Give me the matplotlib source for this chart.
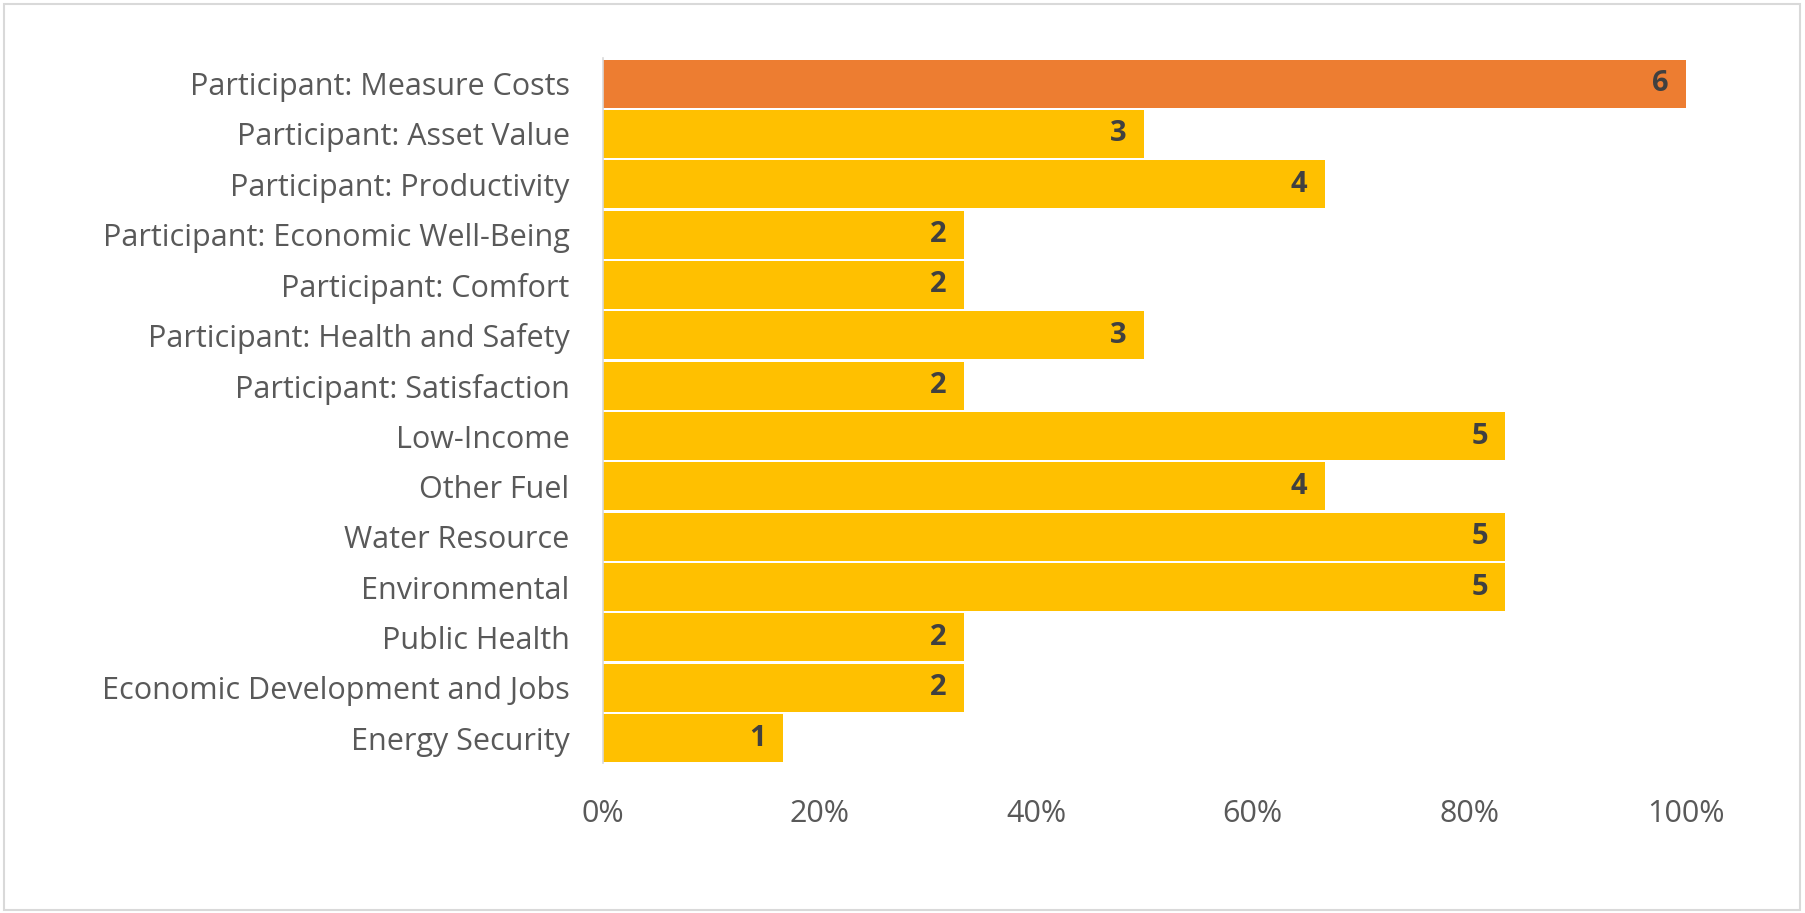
import matplotlib.pyplot as plt
import numpy as np
from matplotlib.patches import Rectangle

# Non-energy impact categories, top to bottom
categories = [
    "Participant: Measure Costs",
    "Participant: Asset Value",
    "Participant: Productivity",
    "Participant: Economic Well-Being",
    "Participant: Comfort",
    "Participant: Health and Safety",
    "Participant: Satisfaction",
    "Low-Income",
    "Other Fuel",
    "Water Resource",
    "Environmental",
    "Public Health",
    "Economic Development and Jobs",
    "Energy Security",
]
counts = [6, 3, 4, 2, 2, 3, 2, 5, 4, 5, 5, 2, 2, 1]
total = 6
x_ticks = [0, 0.2, 0.4, 0.6, 0.8, 1.0]

plt.rcParams['font.family'] = ['Open Sans', 'DejaVu Sans']

fig = plt.figure(figsize=(18.05, 9.13), dpi=100)
ax = fig.add_axes([0.334, 0.164, 0.600, 0.772])

shares = np.array(counts) / total
ypos = np.arange(len(categories))
colors = ['#ED7D31'] + ['#FFC000'] * (len(categories) - 1)
ax.barh(ypos, shares, height=0.95, color=colors, zorder=2)

for y, s, c in zip(ypos, shares, counts):
    ax.text(s - 0.016, y, str(c), ha='right', va='center',
            fontsize=21, fontweight='bold', color='#404040', zorder=3)

ax.set_ylim(len(categories) - 0.5, -0.5)
ax.set_xlim(0, 1.0)
ax.set_yticks(ypos)
ax.set_yticklabels(categories, fontsize=22, color='#595959')
ax.set_xticks(x_ticks)
ax.set_xticklabels(['{:.0%}'.format(t) for t in x_ticks], fontsize=22, color='#595959')
ax.tick_params(axis='y', length=0, pad=24)
ax.tick_params(axis='x', length=0, pad=26)

for side in ['top', 'right', 'bottom']:
    ax.spines[side].set_visible(False)
ax.spines['left'].set_color('#D9D9D9')
ax.spines['left'].set_linewidth(1.2)

# light frame around the whole chart area
fig.patches.append(Rectangle((0.002, 0.003), 0.995, 0.993, transform=fig.transFigure,
                             fill=False, edgecolor='#D9D9D9', linewidth=1.5))

fig.savefig('out.png', dpi=100)
